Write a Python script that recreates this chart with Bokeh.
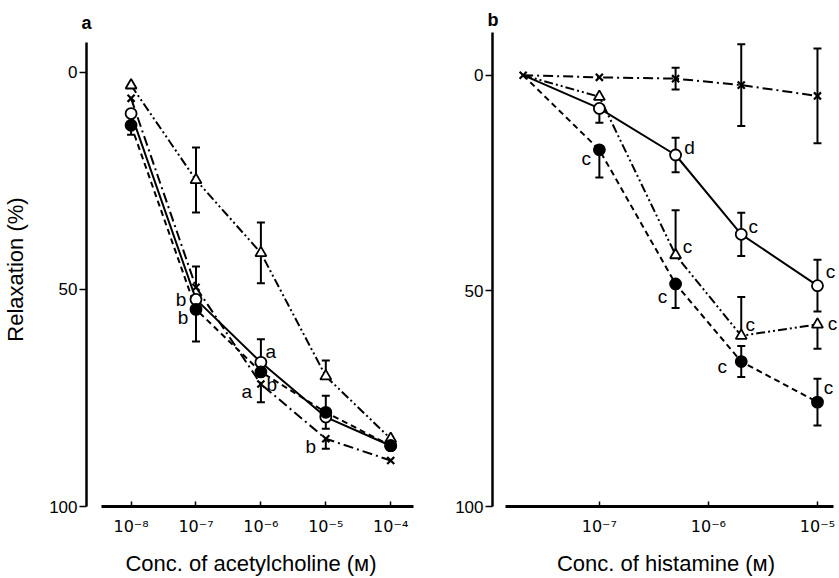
from bokeh.plotting import figure
from bokeh.models import (Range1d, ColumnDataSource, Whisker, TeeHead,
                          FixedTicker, CustomJSTickFormatter)
from bokeh.layouts import row
from bokeh.embed import file_html
from bokeh.resources import INLINE
from bokeh.core.properties import value

# ---------------- data: panel a (acetylcholine) ----------------
ach_conc = [1e-8, 1e-7, 1e-6, 1e-5, 1e-4]
ach_open = [9.5, 52.3, 66.8, 79.4, 86.0]       # open circles, solid line
ach_filled = [12.2, 54.6, 69.0, 78.3, 86.0]    # filled circles, dashed line
ach_cross = [6.0, 49.5, 71.8, 84.4, 89.4]      # crosses, dash-dot line
ach_tri = [3.0, 24.8, 41.6, 70.0, 84.4]        # triangles, dash-dot-dot line
# s.e.mean bars: extent towards 0 ("up") and towards 100 ("dn")
ach_open_up = [0, 0, 5.3, 0, 0]
ach_open_dn = [0, 0, 0, 2.7, 0]
ach_filled_up = [0, 0, 0, 3.8, 0]
ach_filled_dn = [2.2, 7.4, 0, 0, 0]
ach_cross_up = [0, 4.8, 0, 0, 0]
ach_cross_dn = [0, 0, 4.2, 2.3, 0]
ach_tri_up = [0, 7.5, 7.0, 3.6, 0]
ach_tri_dn = [0, 7.5, 7.0, 0, 0]
ach_ticks = [1e-8, 1e-7, 1e-6, 1e-5, 1e-4]
ach_tick_labels = ["10\u207b\u2078", "10\u207b\u2077", "10\u207b\u2076",
                   "10\u207b\u2075", "10\u207b\u2074"]
# significance letters: (letter, series, concentration index)
ach_sig = [("b", "open", 1), ("b", "filled", 1), ("a", "open", 2),
           ("a", "cross", 2), ("b", "cross", 2), ("b", "cross", 3)]

# ---------------- data: panel b (histamine) ----------------
his_conc = [2e-8, 1e-7, 5e-7, 2e-6, 1e-5]
his_open = [0.0, 7.7, 18.5, 36.9, 48.8]
his_filled = [0.0, 17.3, 48.4, 66.4, 75.8]
his_cross = [0.0, 0.5, 0.8, 2.3, 4.8]
his_tri = [0.0, 5.0, 41.7, 60.4, 57.8]
his_open_up = [0, 0, 4.0, 5.0, 6.0]
his_open_dn = [0, 3.3, 4.0, 5.0, 6.0]
his_filled_up = [0, 0, 0, 3.6, 5.4]
his_filled_dn = [0, 6.4, 5.6, 3.6, 5.4]
his_cross_up = [0, 0, 2.5, 9.5, 11.0]
his_cross_dn = [0, 0, 2.5, 9.5, 11.0]
his_tri_up = [0, 0, 10.4, 9.0, 0]
his_tri_dn = [0, 0, 0, 0, 5.6]
his_ticks = [1e-7, 1e-6, 1e-5]
his_tick_labels = ["10\u207b\u2077", "10\u207b\u2076", "10\u207b\u2075"]
his_sig = [("d", "open", 2), ("c", "open", 3), ("c", "open", 4),
           ("c", "filled", 1), ("c", "filled", 2), ("c", "filled", 3),
           ("c", "filled", 4), ("c", "tri", 2), ("c", "tri", 3),
           ("c", "tri", 4)]

y_ticks = [0, 50, 100]

FONT = "Liberation Sans"
TICK_FONT = "DejaVu Sans"
INK = "black"

# letter placement relative to its point (screen px)
ach_sig_offsets = [(-15, 0), (-13, 8), (10, -11), (-14, 7), (11, 0), (-15, 8)]
his_sig_offsets = [(14, -7), (12, -8), (13, -14), (-13, 9), (-13, 13),
                   (-19, 5), (11, -15), (12, -9), (9, -11), (15, -1)]

STYLES = {
    "tri": dict(dash="9 3 2 3 2 3", marker="triangle", fill="white", size=11),
    "cross": dict(dash="10 4 2 4", marker="x", fill="white", size=10),
    "open": dict(dash="solid", marker="circle", fill="white", size=11),
    "filled": dict(dash="6 4", marker="circle", fill="black", size=11),
}


def make_panel(letter, conc, series, errs, ticks, tick_labels, sig,
               sig_offsets, x_lo, x_hi, x_axis_lo, x_axis_hi, y_top,
               y_axis_top, title_standoff, width, border_left, border_right,
               x_label, y_label, marker_from):
    p = figure(width=width, height=578, x_axis_type="log",
               x_range=Range1d(10 ** x_lo, 10 ** x_hi),
               y_range=Range1d(100, y_top),
               output_backend="svg", toolbar_location=None,
               min_border_left=border_left, min_border_right=border_right,
               min_border_top=32, min_border_bottom=70)
    p.outline_line_color = None
    p.xgrid.visible = False
    p.ygrid.visible = False
    p.background_fill_color = "white"
    p.border_fill_color = "white"

    # panel letter above the vertical axis
    p.title.text = letter
    p.title.text_font = FONT
    p.title.text_font_size = "18px"
    p.title.text_font_style = "bold"
    p.title.text_color = INK
    p.title.align = "left"
    p.title.offset = -5
    p.title.standoff = title_standoff

    xa = p.xaxis[0]
    xa.ticker = FixedTicker(ticks=ticks, minor_ticks=[])
    xa.formatter = CustomJSTickFormatter(
        args=dict(tvals=ticks, tlabels=tick_labels),
        code="""
        for (let i = 0; i < tvals.length; i++) {
            if (Math.abs(Math.log10(tvals[i]) - Math.log10(tick)) < 1e-6) return tlabels[i];
        }
        return "";
        """)
    xa.bounds = (10 ** x_axis_lo, 10 ** x_axis_hi)
    xa.axis_line_width = 3
    xa.axis_line_color = INK
    xa.major_tick_in = 5
    xa.major_tick_out = 0
    xa.major_tick_line_width = 1.5
    xa.major_tick_line_color = INK
    xa.major_label_standoff = 10
    xa.major_label_text_font = TICK_FONT
    xa.major_label_text_font_size = "16px"
    xa.major_label_text_color = INK
    xa.axis_label = x_label
    xa.axis_label_text_font = FONT
    xa.axis_label_text_font_size = "22px"
    xa.axis_label_text_font_style = "normal"
    xa.axis_label_text_color = INK
    xa.axis_label_standoff = 12

    ya = p.yaxis[0]
    ya.ticker = FixedTicker(ticks=y_ticks, minor_ticks=[])
    ya.bounds = (y_axis_top, 100)
    ya.axis_line_width = 2.5
    ya.axis_line_color = INK
    ya.major_tick_in = 0
    ya.major_tick_out = 7
    ya.major_tick_line_width = 1.5
    ya.major_tick_line_color = INK
    ya.major_label_standoff = 2
    ya.major_label_text_font = FONT
    ya.major_label_text_font_size = "17px"
    ya.major_label_text_color = INK
    if y_label:
        ya.axis_label = y_label
        ya.axis_label_text_font = FONT
        ya.axis_label_text_font_size = "22px"
        ya.axis_label_text_font_style = "normal"
        ya.axis_label_text_color = INK
        ya.axis_label_standoff = 18

    # error bars, drawn under the markers
    for name, ys in series.items():
        up, dn = errs[name]
        for ext in (up, dn):
            sign = -1 if ext is up else 1
            xs = [c for c, e in zip(conc, ext) if e > 0]
            lo = [y for y, e in zip(ys, ext) if e > 0]
            hi = [y + sign * e for y, e in zip(ys, ext) if e > 0]
            if not xs:
                continue
            src = ColumnDataSource(dict(x=xs, lo=lo, hi=hi))
            w = Whisker(source=src, base="x", lower="lo", upper="hi",
                        dimension="height", line_width=2, line_color=INK,
                        lower_head=None,
                        upper_head=TeeHead(size=8, line_width=2,
                                           line_color=INK),
                        level="underlay")
            p.add_layout(w)

    # connecting lines and markers
    for name, ys in series.items():
        st = STYLES[name]
        p.line(conc, ys, line_color=INK, line_width=2, line_dash=st["dash"])
    for name, ys in series.items():
        st = STYLES[name]
        start = 0 if name == "cross" else marker_from
        lw = 2.2 if name == "cross" else 1.8
        p.scatter(conc[start:], ys[start:], marker=st["marker"],
                  size=st["size"], line_color=INK, line_width=lw,
                  fill_color=st["fill"])

    # significance letters
    tx, ty, tt, ox, oy = [], [], [], [], []
    for (let, name, idx), (dx, dy) in zip(sig, sig_offsets):
        tx.append(conc[idx])
        ty.append(series[name][idx])
        tt.append(let)
        ox.append(dx)
        oy.append(dy)
    p.text(x="x", y="y", text="t", x_offset="ox", y_offset="oy",
           source=ColumnDataSource(dict(x=tx, y=ty, t=tt, ox=ox, oy=oy)),
           text_font=value(FONT), text_font_size="19px",
           text_align="center", text_baseline="middle", text_color=INK)
    return p


pa = make_panel(
    "a", ach_conc,
    {"tri": ach_tri, "cross": ach_cross, "open": ach_open, "filled": ach_filled},
    {"tri": (ach_tri_up, ach_tri_dn), "cross": (ach_cross_up, ach_cross_dn),
     "open": (ach_open_up, ach_open_dn),
     "filled": (ach_filled_up, ach_filled_dn)},
    ach_ticks, ach_tick_labels, ach_sig, ach_sig_offsets,
    x_lo=-8.687, x_hi=-3.618, x_axis_lo=-8.458, x_axis_hi=-3.649,
    y_top=-9.17, y_axis_top=-6.9, title_standoff=0, width=420,
    border_left=83, border_right=5,
    x_label="Conc. of acetylcholine (\u1d0d)", y_label="Relaxation (%)",
    marker_from=0)

pb = make_panel(
    "b", his_conc,
    {"tri": his_tri, "cross": his_cross, "open": his_open, "filled": his_filled},
    {"tri": (his_tri_up, his_tri_dn), "cross": (his_cross_up, his_cross_dn),
     "open": (his_open_up, his_open_dn),
     "filled": (his_filled_up, his_filled_dn)},
    his_ticks, his_tick_labels, his_sig, his_sig_offsets,
    x_lo=-7.98, x_hi=-4.798, x_axis_lo=-7.862, x_axis_hi=-4.853,
    y_top=-9.9, y_axis_top=-9.9, title_standoff=6, width=419,
    border_left=72, border_right=0,
    x_label="Conc. of histamine (\u1d0d)", y_label=None,
    marker_from=1)

layout = row(pa, pb)
open("out.html", "w").write(file_html(layout, INLINE))
